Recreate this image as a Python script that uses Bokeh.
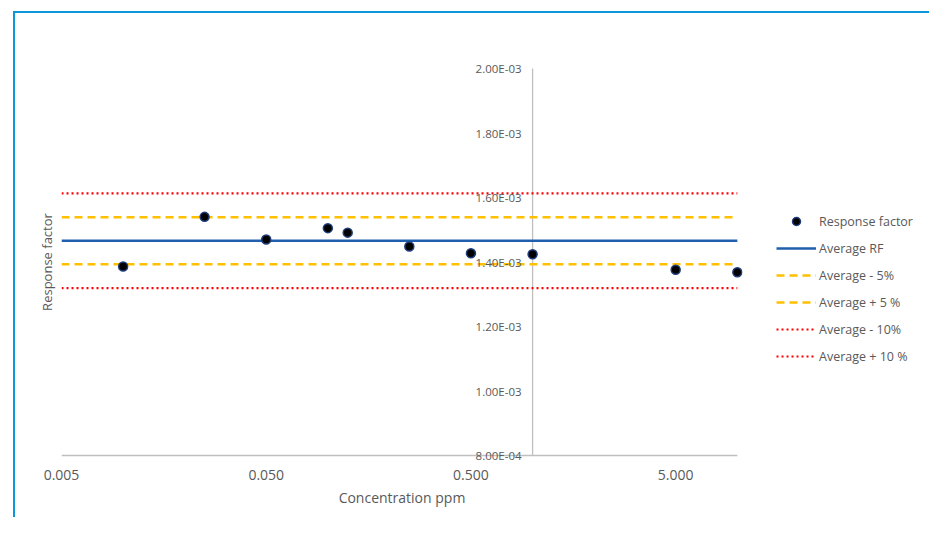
from bokeh.plotting import figure
from bokeh.models import (Range1d, FixedTicker, CustomJSTickFormatter, LabelSet,
                          ColumnDataSource, Legend, LegendItem)
from bokeh.core.properties import value
from bokeh.embed import file_html
from bokeh.resources import INLINE

# ---- data ----
conc = [0.01, 0.025, 0.05, 0.1, 0.125, 0.25, 0.5, 1.0, 5.0, 10.0]
rf = [1.386e-3, 1.540e-3, 1.470e-3, 1.505e-3, 1.491e-3, 1.448e-3, 1.427e-3, 1.424e-3, 1.376e-3, 1.368e-3]
line_x = [0.005, 10.0]
avg_rf = 1.466e-3
avg_minus5 = 1.393e-3
avg_plus5 = 1.539e-3
avg_minus10 = 1.319e-3
avg_plus10 = 1.613e-3
x_ticks = [0.005, 0.05, 0.5, 5.0]
y_ticks = [8e-4, 1.0e-3, 1.2e-3, 1.4e-3, 1.6e-3, 1.8e-3, 2.0e-3]
y_tick_labels = ["8.00E-04", "1.00E-03", "1.20E-03", "1.40E-03", "1.60E-03", "1.80E-03", "2.00E-03"]
y_axis_cross = 1.0

FONT = "Open Sans"
GRAY = "#595959"
AXIS_GRAY = "#bfbfbf"

y_span = y_ticks[-1] - y_ticks[0]
pad = y_span * 10 / 387.0
p = figure(frame_width=681, frame_height=407, x_axis_type="log",
           x_range=Range1d(0.005, 10.6), y_range=Range1d(y_ticks[0] - pad, y_ticks[-1] + pad),
           output_backend="svg", toolbar_location=None,
           min_border_left=61, min_border_right=171, min_border_top=58, min_border_bottom=52)
p.outline_line_color = None
p.xgrid.visible = False
p.ygrid.visible = False
p.background_fill_color = "white"
p.border_fill_alpha = 0
# thin blue frame of the original figure (inset shadows behind the transparent border area)
p.styles = {"box-shadow": "inset 13px 11px 0 0 #ffffff, inset 15px 13px 0 0 #0a97dc"}

# x axis (labels / title only; the line is drawn at y = 8E-4)
xa = p.xaxis[0]
xa.ticker = FixedTicker(ticks=x_ticks, minor_ticks=[])
xa.formatter = CustomJSTickFormatter(code="return tick.toFixed(3)")
xa.major_tick_out = 0
xa.major_tick_in = 0
xa.minor_tick_line_color = None
xa.axis_line_color = None
xa.major_label_text_font = FONT
xa.major_label_text_font_size = "14px"
xa.major_label_text_color = GRAY
xa.major_label_standoff = 4
xa.axis_label = "Concentration ppm"
xa.axis_label_text_font = FONT
xa.axis_label_text_font_size = "14px"
xa.axis_label_text_font_style = "normal"
xa.axis_label_text_color = GRAY
xa.axis_label_standoff = 5

# left axis only carries the title
ya = p.yaxis[0]
ya.ticker = FixedTicker(ticks=[])
ya.axis_line_color = None
ya.major_tick_line_color = None
ya.minor_tick_line_color = None
ya.axis_label = "Response factor"
ya.axis_label_text_font = FONT
ya.axis_label_text_font_size = "13px"
ya.axis_label_text_font_style = "normal"
ya.axis_label_text_color = GRAY
ya.axis_label_standoff = 6

# axis lines: horizontal at the lowest y tick, vertical crossing at x = 1
p.segment(x0=[line_x[0]], y0=[y_ticks[0]], x1=[line_x[1]], y1=[y_ticks[0]],
          line_color=AXIS_GRAY, line_width=1.3)
p.segment(x0=[y_axis_cross], y0=[y_ticks[0]], x1=[y_axis_cross], y1=[y_ticks[-1]],
          line_color=AXIS_GRAY, line_width=1.3)
ysrc = ColumnDataSource(dict(x=[y_axis_cross] * len(y_ticks), y=y_ticks, t=y_tick_labels))
p.add_layout(LabelSet(x="x", y="y", text="t", source=ysrc, x_offset=-11, text_align="right",
                      text_baseline="middle", text_font=value(FONT), text_font_size="11.5px",
                      text_color=GRAY))

# lines
r_avg = p.line(line_x, [avg_rf, avg_rf], line_color="#1f5fad", line_width=2.5)
r_m5 = p.line(line_x, [avg_minus5, avg_minus5], line_color="#ffc000", line_width=2.5, line_dash="8 5")
r_p5 = p.line(line_x, [avg_plus5, avg_plus5], line_color="#ffc000", line_width=2.5, line_dash="8 5")
r_m10 = p.line(line_x, [avg_minus10, avg_minus10], line_color="#ff0000", line_width=2.2, line_dash="2 3")
r_p10 = p.line(line_x, [avg_plus10, avg_plus10], line_color="#ff0000", line_width=2.2, line_dash="2 3")

r_pts = p.scatter(conc, rf, size=9, fill_color="black", line_color="#1f3d7a", line_width=1.5)

legend = Legend(items=[
    LegendItem(label="Response factor", renderers=[r_pts]),
    LegendItem(label="Average RF", renderers=[r_avg]),
    LegendItem(label="Average - 5%", renderers=[r_m5]),
    LegendItem(label="Average + 5 %", renderers=[r_p5]),
    LegendItem(label="Average - 10%", renderers=[r_m10]),
    LegendItem(label="Average + 10 %", renderers=[r_p10]),
])
legend.border_line_color = None
legend.background_fill_alpha = 0
legend.glyph_width = 40
legend.glyph_height = 20
legend.spacing = 7
legend.label_standoff = 3
legend.label_text_font = FONT
legend.label_text_font_size = "12.5px"
legend.label_text_color = GRAY
legend.padding = 0
legend.margin = 0
legend.location = (34, 99)
p.add_layout(legend, "right")

open("out.html", "w").write(file_html(p, INLINE))
